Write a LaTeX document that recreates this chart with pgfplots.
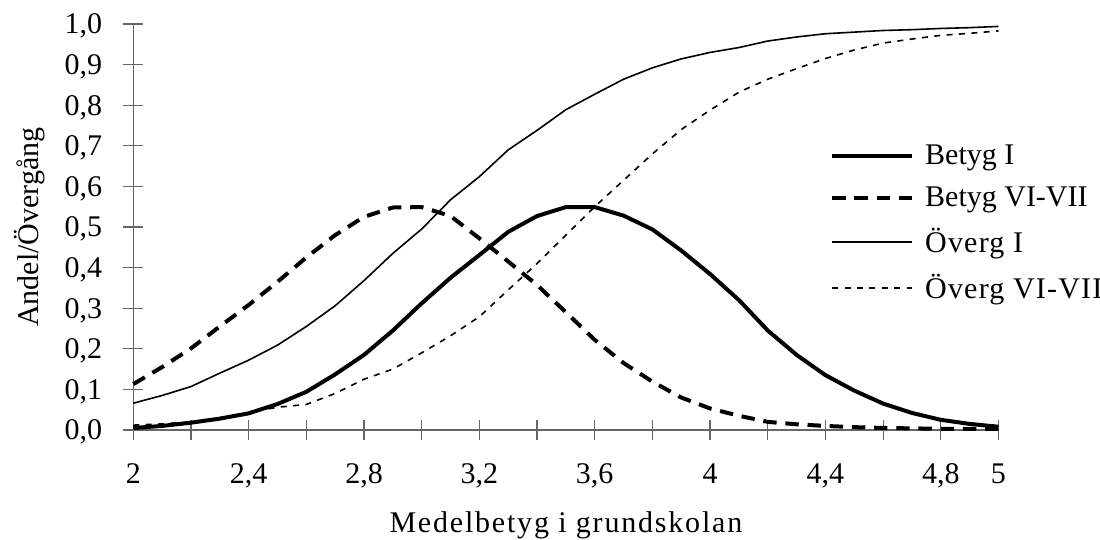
\documentclass[border=0pt]{standalone}
\usepackage{fontspec}
\setmainfont{Liberation Serif}
\usepackage{pgfplots}
\usepackage{pgfplotstable}
\pgfplotsset{compat=1.18}

% Andel per medelbetyg; Betyg I, Betyg VI-VII, Overg I, Overg VI-VII
\pgfplotstableread{
x    bI     bVI    oI     oVI
2.0  0.005  0.113  0.066  0.012
2.1  0.010  0.155  0.085  0.015
2.2  0.018  0.201  0.107  0.020
2.3  0.028  0.255  0.140  0.030
2.4  0.041  0.308  0.172  0.043
2.5  0.064  0.365  0.209  0.056
2.6  0.094  0.425  0.255  0.063
2.7  0.137  0.480  0.306  0.090
2.8  0.185  0.525  0.368  0.125
2.9  0.245  0.548  0.435  0.150
3.0  0.312  0.549  0.495  0.190
3.1  0.375  0.527  0.567  0.232
3.2  0.431  0.472  0.624  0.279
3.3  0.488  0.415  0.690  0.345
3.4  0.527  0.357  0.738  0.410
3.5  0.549  0.290  0.789  0.480
3.6  0.549  0.222  0.827  0.550
3.7  0.528  0.165  0.864  0.615
3.8  0.494  0.119  0.892  0.680
3.9  0.442  0.080  0.914  0.740
4.0  0.384  0.053  0.930  0.788
4.1  0.320  0.035  0.942  0.832
4.2  0.245  0.020  0.958  0.864
4.3  0.185  0.014  0.968  0.890
4.4  0.135  0.010  0.976  0.915
4.5  0.097  0.007  0.980  0.936
4.6  0.065  0.005  0.984  0.953
4.7  0.042  0.004  0.986  0.963
4.8  0.025  0.003  0.989  0.972
4.9  0.015  0.003  0.991  0.977
5.0  0.008  0.003  0.994  0.983
}\data

\begin{document}
\begin{tikzpicture}[font=\fontsize{15}{18}\selectfont]
\path[use as bounding box] (-66.65pt,-55pt) rectangle (483.35pt,215pt);
\begin{axis}[
    scale only axis,
    width=432.6pt, height=203pt,
    xmin=2, xmax=5, ymin=0, ymax=1,
    clip=false,
    axis lines=left,
    axis line style={-, black!60, line width=0.6pt},
    every tick/.style={black!60, line width=0.6pt},
    tick align=center,
    major tick length=10pt, minor tick length=10pt,
    xtick={2,2.4,2.8,3.2,3.6,4,4.4,4.8,5},
    minor xtick={2.2,2.6,3,3.4,3.8,4.2,4.6},
    ytick={0,0.1,...,1.0},
    /pgf/number format/assume math mode=true,
    /pgf/number format/use comma,
    yticklabel style={/pgf/number format/fixed, /pgf/number format/fixed zerofill,
        /pgf/number format/precision=1},
    every y tick label/.append style={inner sep=0pt, anchor=base east,
        xshift=-10.4pt, yshift=-5pt},
    every x tick label/.append style={inner sep=0pt, anchor=base, yshift=-22pt},
    xlabel={\addfontfeature{LetterSpace=6}Medelbetyg i grundskolan},
    ylabel={Andel/Övergång},
    every axis x label/.append style={at={(axis description cs:0.5,0)}, anchor=base, inner sep=0pt, yshift=-51.5pt},
    every axis y label/.append style={at={(axis description cs:0,0.5)}, anchor=base, inner sep=0pt, yshift=47.6pt},
    legend style={draw=none, fill=none, inner sep=0pt, at={(0.805,0.713)}, anchor=north west,
        row sep=5.5pt, /tikz/every odd column/.append style={column sep=3.5pt}},
    legend cell align=left,
    legend image code/.code={\draw[#1] (0pt,0pt) -- (40pt,0pt);},
]
\addplot[black, line width=2pt] table[x=x, y=bI] {\data};
\addlegendentry{Betyg I}
\addplot[black, line width=2pt, dash pattern=on 6.7pt off 4.4pt] table[x=x, y=bVI] {\data};
\addlegendentry{Betyg VI-VII}
\addplot[black, line width=0.8pt] table[x=x, y=oI] {\data};
\addlegendentry{\addfontfeature{LetterSpace=4}Överg I}
\addplot[black, line width=0.8pt, dash pattern=on 3pt off 3.2pt] table[x=x, y=oVI] {\data};
\addlegendentry{\addfontfeature{LetterSpace=4}Överg VI-VII}
\end{axis}
\end{tikzpicture}
\end{document}
